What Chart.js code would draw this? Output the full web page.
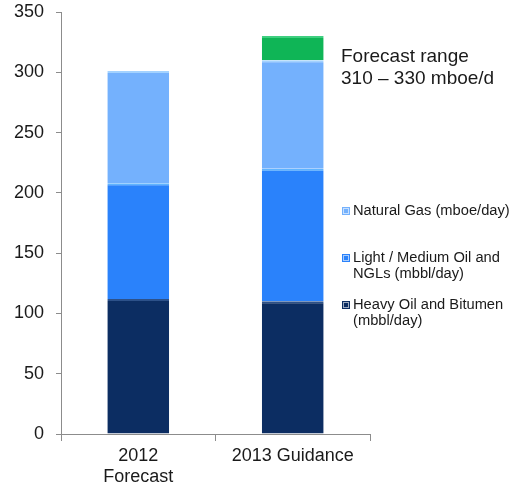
<!DOCTYPE html>
<html>
<head>
<meta charset="utf-8">
<script src="https://cdn.jsdelivr.net/npm/chart.js@4"></script>
<style>
  html, body { margin: 0; padding: 0; background: #fff; }
  #wrap { width: 513px; height: 491px; }
</style>
</head>
<body>
<div id="wrap"><canvas id="prodChart"></canvas></div>
<script>
// ===== production guidance – stacked bars =====
const categories = [["2012", "Forecast"], "2013 Guidance"];
const heavyOil   = [112, 110];
const lightOil   = [96, 110];
const naturalGas = [93, 90];
const rangeTop   = [0, 20];
const yTicks     = [0, 50, 100, 150, 200, 250, 300, 350];

const legendLabels = {
  gas:   ["Natural Gas (mboe/day)"],
  light: ["Light / Medium Oil and", "NGLs (mbbl/day)"],
  heavy: ["Heavy Oil and Bitumen", "(mbbl/day)"]
};
const noteLines = ["Forecast range", "310 \u2013 330 mboe/d"];

const FONT = "Liberation Sans, Arial, sans-serif";
const TXT = "#1a1a1a";

// legend + note drawn next to the bars
const sideText = {
  id: "sideText",
  afterDraw(chart) {
    const c = chart.ctx;
    c.save();
    c.fillStyle = TXT;
    c.textBaseline = "middle";
    c.font = "19px " + FONT;
    c.fillText(noteLines[0], 341, 57);
    c.fillText(noteLines[1], 341, 79);

    c.font = "14.7px " + FONT;
    const items = [
      { lines: legendLabels.gas,   color: "#74b1fd", y: 211 },
      { lines: legendLabels.light, color: "#2a82fb", y: 258 },
      { lines: legendLabels.heavy, color: "#0c2d62", y: 305 }
    ];
    items.forEach(it => {
      c.fillStyle = it.color;
      c.fillRect(342, it.y - 4, 8, 8);
      c.strokeStyle = "rgba(255,255,255,0.6)";
      c.lineWidth = 1;
      c.strokeRect(343.5, it.y - 2.5, 5, 5);
      c.fillStyle = TXT;
      it.lines.forEach((l, i) => c.fillText(l, 353, it.y + i * 16));
    });
    c.restore();
  }
};

const ctx = document.getElementById("prodChart");
new Chart(ctx, {
  type: "bar",
  data: {
    labels: categories,
    datasets: [
      { label: "Heavy Oil and Bitumen (mbbl/day)", data: heavyOil, backgroundColor: "#0c2d62", borderColor: "#2d5189", borderWidth: { top: 2 } },
      { label: "Light / Medium Oil and NGLs (mbbl/day)", data: lightOil, backgroundColor: "#2a82fb", borderColor: "#5fb4ff", borderWidth: { top: 2 } },
      { label: "Natural Gas (mboe/day)", data: naturalGas, backgroundColor: "#74b1fd", borderColor: "#a3d2ff", borderWidth: { top: 2 } },
      { label: "Forecast range", data: rangeTop, backgroundColor: "#0fb556", borderColor: "#3fcf80", borderWidth: { top: 2 } }
    ]
  },
  options: {
    responsive: true, maintainAspectRatio: false, animation: false,
    datasets: { bar: { barPercentage: 0.4, categoryPercentage: 1 } },
    layout: { padding: { top: 12, right: 143, left: 0, bottom: 0 } },
    plugins: { legend: { display: false }, tooltip: { enabled: false } },
    scales: {
      x: {
        stacked: true,
        grid: { offset: true, drawOnChartArea: false, tickLength: 7, color: "#8c8c8c" },
        border: { color: "#8c8c8c" },
        ticks: { color: TXT, font: { family: FONT, size: 18 }, padding: 4 },
        afterFit: s => { s.height = 57; }
      },
      y: {
        stacked: true, min: 0, max: 350,
        afterBuildTicks: s => { s.ticks = yTicks.map(v => ({ value: v })); },
        grid: { drawOnChartArea: false, tickLength: 5, color: "#8c8c8c" },
        border: { color: "#8c8c8c" },
        ticks: { color: TXT, font: { family: FONT, size: 18 }, padding: 12 },
        afterFit: s => { s.width = 61; s.paddingTop = 0; s.paddingBottom = 0; }
      }
    }
  },
  plugins: [sideText]
});
</script>
</body>
</html>
